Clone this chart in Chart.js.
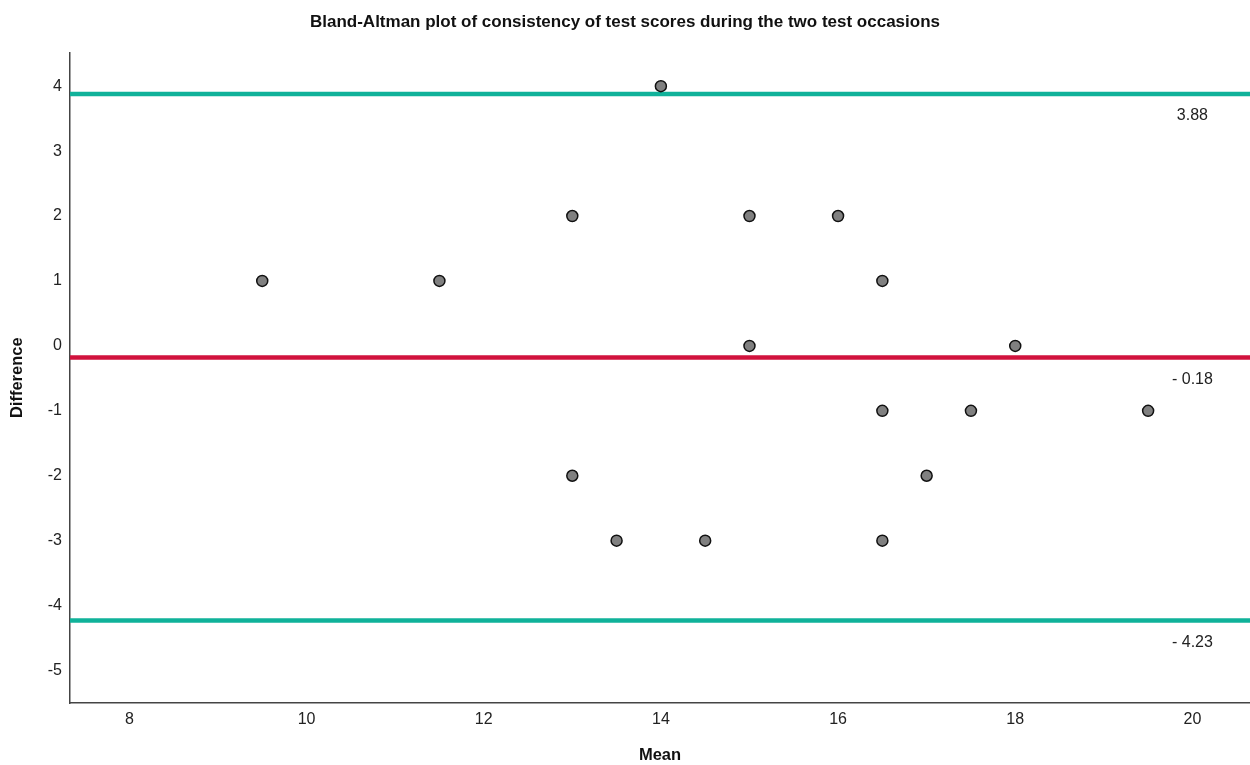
<!DOCTYPE html>
<html>
<head>
<meta charset="utf-8">
<script src="https://cdn.jsdelivr.net/npm/chart.js@4"></script>
<style>
  html, body { margin: 0; padding: 0; background: #fff; }
  #wrap { width: 1250px; height: 765px; }
</style>
</head>
<body>
<div id="wrap"><canvas id="c" width="1250" height="765"></canvas></div>
<script>
// ── data ──
const MEAN_VALS = [9.5, 11.5, 13, 13, 13.5, 14, 14.5, 15, 15, 16, 16.5, 16.5, 16.5, 17, 17.5, 18, 19.5];
const DIFF_VALS = [1,   1,    2, -2, -3,   4,  -3,   2,  0,  2,  1,    -1,   -3,   -2, -1,   0,  -1];

const LIMIT_VALUES = [3.88, -0.18, -4.23];
const LIMIT_LABELS = ["3.88", "- 0.18", "- 4.23"];
const LIMIT_COLORS = ["#10b29a", "#d1123d", "#10b29a"];

const X_TICKS = [8, 10, 12, 14, 16, 18, 20];
const Y_TICKS = [-5, -4, -3, -2, -1, 0, 1, 2, 3, 4];

const X_MIN = 7.33, X_MAX = 20.65;
const Y_MIN = -5.5, Y_MAX = 4.52;
const LABEL_X = 20;

const FONT = "'Liberation Sans', Arial, sans-serif";
Chart.defaults.font.family = FONT;
Chart.defaults.color = "#222";

const points = MEAN_VALS.map((x, i) => ({ x, y: DIFF_VALS[i] }));

const limitSets = LIMIT_VALUES.map((v, i) => ({
  type: "line",
  data: [{ x: X_MIN, y: v }, { x: X_MAX, y: v }],
  borderColor: LIMIT_COLORS[i],
  borderWidth: 4.5,
  pointRadius: 0,
  fill: false,
  order: 2
}));

// ── limit value labels ──
const limitLabels = {
  id: "limitLabels",
  afterDatasetsDraw(chart) {
    const { ctx, scales: { x, y } } = chart;
    ctx.save();
    ctx.font = "16px " + FONT;
    ctx.fillStyle = "#222";
    ctx.textAlign = "center";
    ctx.textBaseline = "middle";
    LIMIT_VALUES.forEach((v, i) => {
      ctx.fillText(LIMIT_LABELS[i], x.getPixelForValue(LABEL_X), y.getPixelForValue(v) + 22);
    });
    ctx.restore();
  }
};

new Chart(document.getElementById("c"), {
  type: "scatter",
  data: {
    datasets: [
      {
        data: points,
        backgroundColor: "#808080",
        borderColor: "#111",
        borderWidth: 1.5,
        pointRadius: 5.5,
        pointHoverRadius: 5.5,
        order: 1
      },
      ...limitSets
    ]
  },
  options: {
    responsive: false,
    animation: false,
    layout: { padding: 0, autoPadding: false },
    plugins: {
      legend: { display: false },
      tooltip: { enabled: false },
      title: {
        display: true,
        text: "Bland-Altman plot of consistency of test scores during the two test occasions",
        font: { size: 17, weight: "bold" },
        color: "#111",
        padding: { top: 12, bottom: 20 }
      }
    },
    scales: {
      x: {
        type: "linear",
        min: X_MIN, max: X_MAX,
        afterBuildTicks: s => { s.ticks = X_TICKS.map(v => ({ value: v })); },
        afterFit: s => { s.height = 62; },
        grid: { display: false, drawTicks: false },
        border: { display: true, color: "#444", width: 1.5 },
        ticks: { font: { size: 16 }, color: "#222", padding: 7 },
        title: { display: true, text: "Mean", font: { size: 16.5, weight: "bold" }, color: "#111", padding: { top: 0, bottom: 0 } }
      },
      y: {
        type: "linear",
        min: Y_MIN, max: Y_MAX,
        afterBuildTicks: s => { s.ticks = Y_TICKS.map(v => ({ value: v })); },
        afterFit: s => { s.width = 70; },
        grid: { display: false, drawTicks: false },
        border: { display: true, color: "#444", width: 1.5 },
        ticks: { font: { size: 16 }, color: "#222", padding: 8 },
        title: { display: true, text: "Difference", font: { size: 16.5, weight: "bold" }, color: "#111", padding: { top: 8, bottom: 0 } }
      }
    }
  },
  plugins: [limitLabels]
});
</script>
</body>
</html>
